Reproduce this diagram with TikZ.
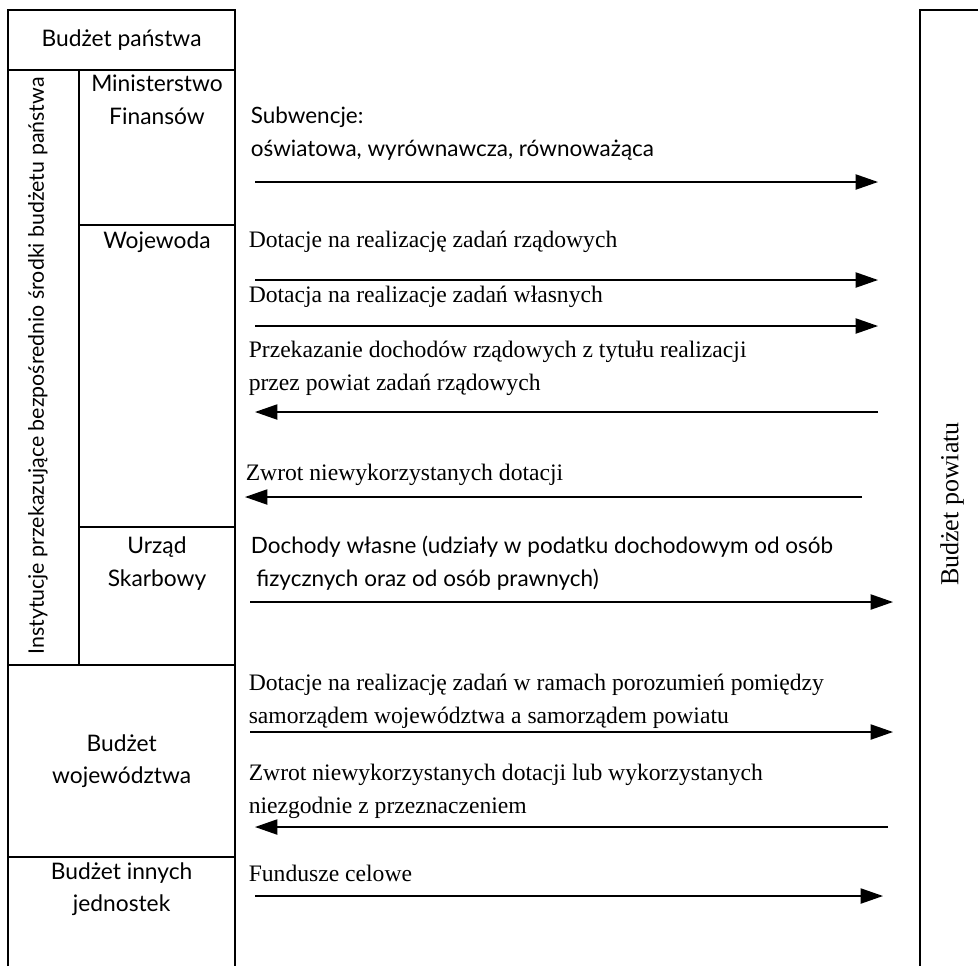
\documentclass[tikz,border=0pt]{standalone}
\usepackage{fontspec}
\setmainfont{Liberation Serif}
\newfontfamily\humfont{Lato}
\usetikzlibrary{arrows.meta}

\begin{document}
\begin{tikzpicture}[line width=1.1pt,
    flow/.style={-{Triangle[length=0.56cm,width=0.38cm]}},
    lab/.style={font=\humfont\fontsize{16.2}{23.4}\selectfont, align=center, inner sep=0pt},
    txt/.style={font=\fontsize{16.8}{23.4}\selectfont, align=left, anchor=west, inner sep=0pt},
    htxt/.style={txt, font=\humfont\fontsize{16}{23.4}\selectfont}]
          \useasboundingbox (0,0) rectangle (24.45,-24.15);
          % lewa tabela
          \draw (0.2,-24.15) -- (0.2,-0.25) -- (5.875,-0.25) -- (5.875,-24.15);
          \draw (0.2,-1.75) -- (5.875,-1.75);
          \draw (1.975,-1.75) -- (1.975,-16.625);
          \draw (1.975,-5.625) -- (5.875,-5.625)
                (1.975,-13.175) -- (5.875,-13.175);
          \draw (0.2,-16.625) -- (5.875,-16.625)
                (0.2,-21.425) -- (5.875,-21.425);
          % prawa kolumna
          \draw (24.45,-0.25) -- (23,-0.25) -- (23,-24.15);
          \node[lab] (bp) at (3.04,-1.0) {Budżet państwa};
          \node[lab] (mf) at (3.925,-2.5) {Ministerstwo\\Finansów};
          \node[lab] (woj) at (3.925,-6.05) {Wojewoda};
          \node[lab] (us) at (3.925,-14.08) {Urząd\\Skarbowy};
          \node[lab] (bw) at (3.04,-19.03) {Budżet\\województwa};
          \node[lab] (bij) at (3.04,-22.23) {Budżet innych\\jednostek};
          \node[lab,rotate=90,font=\humfont\fontsize{15.2}{20}\selectfont] (inst) at (0.95,-9.15) {Instytucje przekazujące bezpośrednio środki budżetu państwa};
          \node[txt,rotate=90,anchor=center,font=\fontsize{18.5}{20}\selectfont] (bpow) at (23.8,-12.6) {Budżet powiatu};
          % opisy strumieni
          \node[htxt] (sub) at (6.25,-3.35) {Subwencje:\\oświatowa, wyrównawcza, równoważąca};
          \node[txt] (dzr) at (6.2,-6.05) {Dotacje na realizację zadań rządowych};
          \node[txt] (dzw) at (6.2,-7.425) {Dotacja na realizacje zadań własnych};
          \node[txt] (prz) at (6.2,-9.21) {Przekazanie dochodów rządowych z tytułu realizacji\\przez powiat zadań rządowych};
          \node[txt] (zw) at (6.125,-11.875) {Zwrot niewykorzystanych dotacji};
          \node[htxt] (dw) at (6.25,-14.075) {Dochody własne (udziały w podatku dochodowym od osób\\\hspace{0.25em}fizycznych oraz od osób prawnych)};
          \node[txt] (dpor) at (6.2,-17.54) {Dotacje na realizację zadań w ramach porozumień pomiędzy\\samorządem województwa a samorządem powiatu};
          \node[txt] (zwl) at (6.2,-19.79) {Zwrot niewykorzystanych dotacji lub wykorzystanych\\niezgodnie z przeznaczeniem};
          \node[txt] (fc) at (6.2,-21.825) {Fundusze celowe};
          % strzałki
          \coordinate (subL) at (6.375,-4.55);   \coordinate (subR) at (21.95,-4.55);
          \coordinate (dzrL) at (6.375,-7.0);    \coordinate (dzrR) at (21.95,-7.0);
          \coordinate (dzwL) at (6.375,-8.15);   \coordinate (dzwR) at (21.95,-8.15);
          \coordinate (przL) at (6.375,-10.3);   \coordinate (przR) at (21.95,-10.3);
          \coordinate (zwL) at (6.125,-12.425);  \coordinate (zwR) at (21.55,-12.425);
          \coordinate (dwL) at (6.25,-15.05);    \coordinate (dwR) at (22.325,-15.05);
          \coordinate (dporL) at (6.25,-18.3);   \coordinate (dporR) at (22.325,-18.3);
          \coordinate (zwlL) at (6.375,-20.675); \coordinate (zwlR) at (22.2,-20.675);
          \coordinate (fcL) at (6.375,-22.4);    \coordinate (fcR) at (22.075,-22.4);
          \draw[flow] (subL) -- (subR);
          \draw[flow] (dzrL) -- (dzrR);
          \draw[flow] (dzwL) -- (dzwR);
          \draw[flow] (przR) -- (przL);
          \draw[flow] (zwR) -- (zwL);
          \draw[flow] (dwL) -- (dwR);
          \draw[flow] (dporL) -- (dporR);
          \draw[flow] (zwlR) -- (zwlL);
          \draw[flow] (fcL) -- (fcR);
\end{tikzpicture}
\end{document}
